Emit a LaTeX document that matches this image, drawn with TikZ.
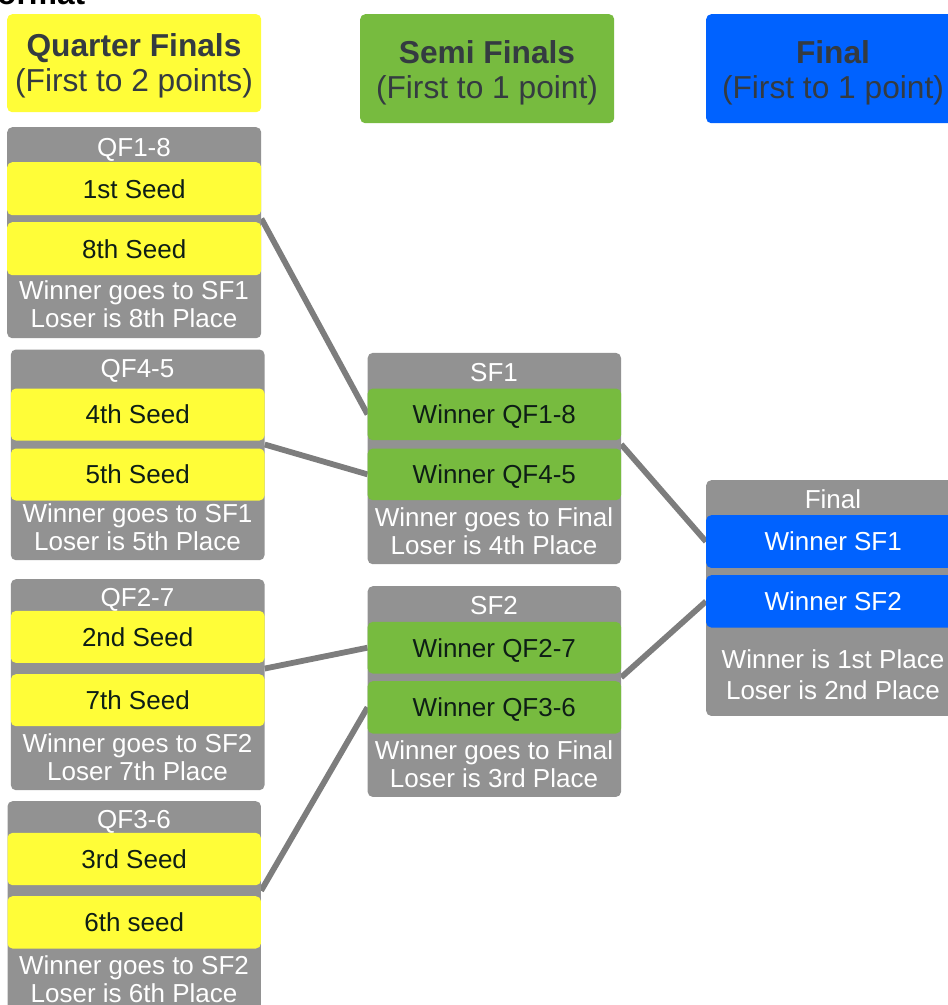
\documentclass[tikz,border=0pt]{standalone}
\usepackage{fontspec}
\setmainfont{Liberation Sans}
\usetikzlibrary{calc}
\definecolor{qfy}{HTML}{FFFD38}
\definecolor{sfg}{HTML}{77BB3F}
\definecolor{fbl}{HTML}{0062FF}
\definecolor{grpc}{HTML}{929292}
\definecolor{lnc}{HTML}{7D7D7D}
\definecolor{hdt}{HTML}{343B41}
\definecolor{dkt}{HTML}{0E1E16}
\pgfdeclarelayer{bg}
\pgfsetlayers{bg,main}
\begin{document}
\begin{tikzpicture}[x=1pt,y=-1pt,
  box/.style={rectangle, rounded corners=5pt, inner sep=0pt, anchor=north west},
  grpbox/.style={box, fill=grpc},
  hdr/.style={inner sep=0pt, anchor=north, align=center, text=hdt, font=\fontsize{31.7}{35}\selectfont},
  ttlnode/.style={inner sep=0pt, anchor=base, text=white, font=\fontsize{26}{28}\selectfont},
  notenode/.style={inner sep=0pt, anchor=north, align=center, text=white, font=\fontsize{26}{28}\selectfont},
  seedbox/.style={box, fill=qfy, text=dkt, font=\fontsize{26}{28}\selectfont, text height=18.6pt, text depth=0pt},
  sfbox/.style={box, fill=sfg, text=dkt, font=\fontsize{26}{28}\selectfont, text height=18.6pt, text depth=0pt},
  fbox/.style={box, fill=fbl, text=white, font=\fontsize{26}{28}\selectfont, text height=18.6pt, text depth=0pt},
  conn/.style={draw=lnc, line width=5.8pt}
]
\useasboundingbox (0,0) rectangle (948,1005);
\clip (0,0) rectangle (948,1005);

% title fragment
\node[anchor=base west, inner sep=0pt, font=\bfseries\fontsize{31.7}{35}\selectfont] (pagetitle) at (-3,4.5) {ormat};

% headers
\node[box, fill=qfy, minimum width=254, minimum height=98] (hq) at (7,14) {};
\node[hdr] (hqt) at (134,33.6) {\textbf{Quarter Finals}\\(First to 2 points)};
\node[box, fill=sfg, minimum width=254, minimum height=109] (hs) at (360,14) {};
\node[hdr] (hst) at (487,40.8) {\textbf{Semi Finals}\\(First to 1 point)};
\node[box, fill=fbl, minimum width=254, minimum height=109] (hf) at (706,14) {};
\node[hdr] (hft) at (833,40.8) {\textbf{Final}\\(First to 1 point)};

% QF1-8
\node[grpbox, minimum width=254, minimum height=211] (g18) at (7,127) {};
\node[ttlnode] (g18t) at (134,156) {QF1-8};
\node[seedbox, minimum width=254, minimum height=53] (s1) at (7,162) {1st Seed};
\node[seedbox, minimum width=254, minimum height=53] (s8) at (7,222) {8th Seed};
\node[notenode] (g18n) at (134,280.7) {Winner goes to SF1\\Loser is 8th Place};

% QF4-5
\node[grpbox, minimum width=253.6, minimum height=210.7] (g45) at (10.7,349.3) {};
\node[ttlnode] (g45t) at (137.5,377.3) {QF4-5};
\node[seedbox, minimum width=253.6, minimum height=52] (s4) at (10.7,388.3) {4th Seed};
\node[seedbox, minimum width=253.6, minimum height=52] (s5) at (10.7,448.3) {5th Seed};
\node[notenode] (g45n) at (137.5,503.7) {Winner goes to SF1\\Loser is 5th Place};

% QF2-7
\node[grpbox, minimum width=253.6, minimum height=211] (g27) at (10.7,579) {};
\node[ttlnode] (g27t) at (137.5,606) {QF2-7};
\node[seedbox, minimum width=253.6, minimum height=52] (s2) at (10.7,610.7) {2nd Seed};
\node[seedbox, minimum width=253.6, minimum height=52] (s7) at (10.7,674) {7th Seed};
\node[notenode] (g27n) at (137.5,733) {Winner goes to SF2\\Loser 7th Place};

% QF3-6
\node[grpbox, minimum width=253.4, minimum height=220] (g36) at (7.3,801) {};
\node[ttlnode] (g36t) at (134,828.6) {QF3-6};
\node[seedbox, minimum width=253.4, minimum height=52.3] (s3) at (7.3,832.7) {3rd Seed};
\node[seedbox, minimum width=253.4, minimum height=52.3] (s6) at (7.3,896) {6th seed};
\node[notenode] (g36n) at (134,955.7) {Winner goes to SF2\\Loser is 6th Place};

% SF1
\node[grpbox, minimum width=253.3, minimum height=211.3] (sf1) at (367.5,352.7) {};
\node[ttlnode] (sf1t) at (494,381) {SF1};
\node[sfbox, minimum width=253.3, minimum height=51.7] (w18) at (367.5,388.3) {Winner QF1-8};
\node[sfbox, minimum width=253.3, minimum height=51.7] (w45) at (367.5,448.3) {Winner QF4-5};
\node[notenode] (sf1n) at (494,507.4) {Winner goes to Final\\Loser is 4th Place};

% SF2
\node[grpbox, minimum width=253.3, minimum height=210.7] (sf2) at (367.5,586) {};
\node[ttlnode] (sf2t) at (494,614.3) {SF2};
\node[sfbox, minimum width=253.3, minimum height=51.6] (w27) at (367.5,621.7) {Winner QF2-7};
\node[sfbox, minimum width=253.3, minimum height=52.3] (w36) at (367.5,681) {Winner QF3-6};
\node[notenode] (sf2n) at (494,740) {Winner goes to Final\\Loser is 3rd Place};

% Final
\node[grpbox, minimum width=254, minimum height=235.7] (fin) at (706,480) {};
\node[ttlnode] (fint) at (833,508.6) {Final};
\node[fbox, minimum width=254, minimum height=52.7] (b1) at (706,515) {Winner SF1};
\node[fbox, minimum width=254, minimum height=52.3] (b2) at (706,575) {Winner SF2};
\node[notenode, font=\fontsize{26}{31.7}\selectfont] (finn) at (833,649) {Winner is 1st Place\\Loser is 2nd Place};

% connectors
\begin{pgfonlayer}{bg}
\draw[conn] ($(s1.south east)!.5!(s8.north east)$) -- (w18.west);
\draw[conn] ($(s4.south east)!.5!(s5.north east)$) -- (w45.west);
\draw[conn] ($(s2.south east)!.5!(s7.north east)$) -- (w27.west);
\draw[conn] ($(s3.south east)!.5!(s6.north east)$) -- (w36.west);
\draw[conn] ($(w18.south east)!.5!(w45.north east)$) -- (b1.west);
\draw[conn] ($(w27.south east)!.5!(w36.north east)$) -- (b2.west);
\end{pgfonlayer}
\end{tikzpicture}
\end{document}
